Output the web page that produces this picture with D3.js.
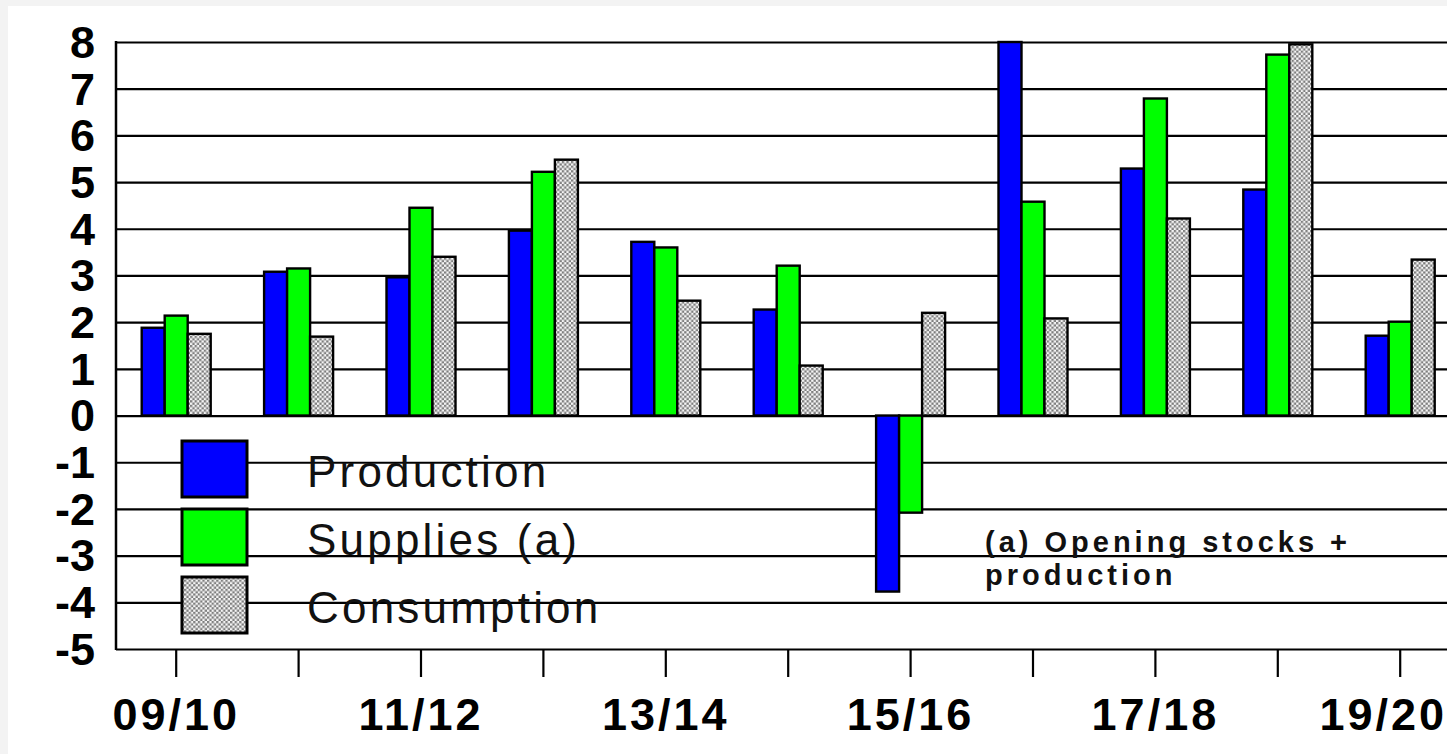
<!DOCTYPE html>
<html>
<head>
<meta charset="utf-8">
<script src="https://cdn.jsdelivr.net/npm/d3@7/dist/d3.min.js"></script>
<style>
  html, body { margin: 0; padding: 0; background: #f3f3f3; }
  svg { display: block; }
</style>
</head>
<body>
<svg id="chart" width="1447" height="754"></svg>
<script>
const categories = ["09/10","10/11","11/12","12/13","13/14","14/15","15/16","16/17","17/18","18/19","19/20"];
const production  = [1.88, 3.08, 2.96, 3.96, 3.72, 2.27, -3.77, 8.00, 5.29, 4.84, 1.71];
const supplies    = [2.14, 3.15, 4.45, 5.22, 3.60, 3.21, -2.08, 4.58, 6.79, 7.73, 2.01];
const consumption = [1.75, 1.69, 3.40, 5.48, 2.46, 1.07, 2.20, 2.08, 4.22, 7.95, 3.34];
const seriesNames = ["Production", "Supplies (a)", "Consumption"];
const yTicks = [-5,-4,-3,-2,-1,0,1,2,3,4,5,6,7,8];
const xLabelCats = ["09/10","11/12","13/14","15/16","17/18","19/20"];
const noteLines = ["(a) Opening stocks +", "production"];

const W = 1447, H = 754;
const svg = d3.select("#chart");

// background frame
svg.append("rect").attr("x", 8).attr("y", 6).attr("width", W - 8).attr("height", H - 6).attr("fill", "#fff");

const defs = svg.append("defs");
const cs = 2.3;
const pat = defs.append("pattern").attr("id", "checker").attr("patternUnits", "userSpaceOnUse")
  .attr("width", cs * 2).attr("height", cs * 2);
pat.append("rect").attr("width", cs * 2).attr("height", cs * 2).attr("fill", "#f6f6f6");
pat.append("rect").attr("x", 0).attr("y", 0).attr("width", cs).attr("height", cs).attr("fill", "#7e7e7e");
pat.append("rect").attr("x", cs).attr("y", cs).attr("width", cs).attr("height", cs).attr("fill", "#7e7e7e");

const plotLeft = 116, plotTop = 42, plotBottom = 649;
const y = d3.scaleLinear().domain([-5, 8]).range([plotBottom, plotTop]);
const step = 122.4;
const x = d3.scaleBand().domain(categories).range([115, 115 + step * categories.length]).padding(0);
const sub = d3.scaleBand().domain(seriesNames).range([-34.5, 34.5]).padding(0);
const fills = ["#0000ff", "#00ff00", "url(#checker)"];
const data = [production, supplies, consumption];

// y axis with gridlines
const yAxis = d3.axisLeft(y).tickValues(yTicks).tickSize(-(W - plotLeft)).tickPadding(21).tickFormat(d => String(d));
const gy = svg.append("g").attr("transform", `translate(${plotLeft},0)`).call(yAxis);
gy.select(".domain").remove();
gy.selectAll(".tick line").attr("stroke", "#000").attr("stroke-width", 2.2);
gy.selectAll(".tick text")
  .attr("font-family", "Liberation Sans, Arial, sans-serif")
  .attr("font-weight", "bold").attr("font-size", 45).attr("fill", "#000")
  .attr("dy", "0.34em");

// left axis line
svg.append("line").attr("x1", plotLeft).attr("x2", plotLeft).attr("y1", plotTop - 1).attr("y2", plotBottom + 1)
  .attr("stroke", "#000").attr("stroke-width", 2.5);

// bottom axis
const xAxis = d3.axisBottom(x).tickSize(28).tickPadding(21)
  .tickFormat(d => xLabelCats.includes(d) ? d : "");
const gx = svg.append("g").attr("transform", `translate(0,${plotBottom})`).call(xAxis);
gx.select(".domain").remove();
gx.selectAll(".tick line").attr("stroke", "#000").attr("stroke-width", 2.2);
const ls = 3;
gx.selectAll(".tick text")
  .attr("font-family", "Liberation Sans, Arial, sans-serif")
  .attr("font-weight", "bold").attr("font-size", 45).attr("fill", "#000")
  .attr("letter-spacing", ls);
// keep the last label inside the picture, as in the reference
const lastCat = categories[categories.length - 1];
gx.selectAll(".tick").filter(d => d === lastCat).select("text")
  .attr("text-anchor", "end")
  .attr("x", 1444 + ls - (x(lastCat) + x.bandwidth() / 2));

// bars
const groups = svg.append("g").selectAll("g").data(categories).join("g")
  .attr("transform", d => `translate(${x(d) + x.bandwidth() / 2},0)`);
groups.selectAll("rect").data((c, i) => seriesNames.map((s, k) => ({ s, k, v: data[k][i] }))).join("rect")
  .attr("x", d => sub(d.s))
  .attr("width", sub.bandwidth())
  .attr("y", d => y(Math.max(0, d.v)))
  .attr("height", d => Math.abs(y(d.v) - y(0)))
  .attr("fill", d => fills[d.k])
  .attr("stroke", "#000").attr("stroke-width", 2.4);

// legend
const legendY = [441, 509, 577];
const lg = svg.append("g");
lg.selectAll("rect").data(seriesNames).join("rect")
  .attr("x", 182).attr("y", (d, i) => legendY[i]).attr("width", 65).attr("height", 56)
  .attr("fill", (d, i) => fills[i]).attr("stroke", "#000").attr("stroke-width", 3);
lg.selectAll("text").data(seriesNames).join("text")
  .attr("x", 307).attr("y", (d, i) => legendY[i] + 46)
  .attr("font-family", "Liberation Sans, Arial, sans-serif")
  .attr("font-size", 44).attr("fill", "#111").attr("letter-spacing", 3.2)
  .text(d => d);

// note
svg.append("g").selectAll("text").data(noteLines).join("text")
  .attr("x", 985).attr("y", (d, i) => 552 + i * 33)
  .attr("font-family", "Liberation Sans, Arial, sans-serif")
  .attr("font-weight", "bold").attr("font-size", 29).attr("fill", "#111").attr("letter-spacing", 4.0)
  .text(d => d);
</script>
</body>
</html>
